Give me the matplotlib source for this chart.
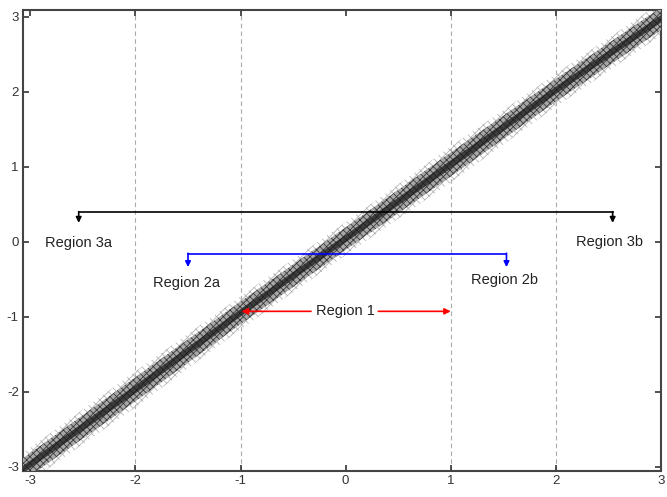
import numpy as np
from matplotlib import pyplot as plt

plt.rcParams['font.family'] = ['Liberation Sans', 'DejaVu Sans']
plt.rcParams['axes.unicode_minus'] = False
plt.rcParams['hatch.linewidth'] = 0.6

# centre of the point cloud read at the integer x positions
band_x = [-3.1, -2, -1, 0, 1, 2, 3.05]
band_y = [-3.07, -1.97, -0.95, 0.04, 1.03, 2.02, 3.02]
# half widths of the cloud (outer speckle, dense part, dark core)
outer_w = [0.22, 0.24, 0.22, 0.22, 0.24, 0.22, 0.22]
mid_w = [0.15, 0.16, 0.15, 0.15, 0.16, 0.15, 0.15]
core_w = [0.05, 0.055, 0.05, 0.05, 0.055, 0.05, 0.05]

grid_x = [-2, -1, 1, 2]
ticks = [-3, -2, -1, 0, 1, 2, 3]

# bracket annotations: (left end, right end, bar height, arrow tip, color)
reg3 = (-2.54, 2.54, 0.39, 0.25, 'black')
reg2 = (-1.50, 1.53, -0.165, -0.34, '#0000ff')
reg3_labels = [(-2.54, -0.02, 'Region 3a'), (2.51, 0.0, 'Region 3b')]
reg2_labels = [(-1.51, -0.55, 'Region 2a'), (1.51, -0.51, 'Region 2b')]
reg1_y = -0.93
reg1_arrows = [(-0.33, -0.99), (0.31, 1.0)]

fig = plt.figure(figsize=(6.67, 4.97), dpi=100)
ax = fig.add_axes([23 / 667, 1 - 471 / 497, 638 / 667, 461 / 497])

for gx in grid_x:
    ax.axvline(gx, color='#aaaaaa', linestyle=(0, (4, 3)), linewidth=0.8, zorder=1)

bx = np.array(band_x)
by = np.array(band_y)
ax.fill_between(bx, by - np.array(outer_w), by + np.array(outer_w), facecolor='none',
                edgecolor='#b5b5b5', hatch='xxxx', linewidth=0, zorder=2)
ax.fill_between(bx, by - np.array(mid_w), by + np.array(mid_w), facecolor='#a8a8a8',
                edgecolor='#3a3a3a', hatch='xxxxx', linewidth=0, zorder=3)
ax.fill_between(bx, by - np.array(core_w), by + np.array(core_w), facecolor='#1a1a1a',
                edgecolor='none', linewidth=0, alpha=0.75, zorder=4)

for x0, x1, yb, yt, col in [reg3, reg2]:
    ax.plot([x0, x1], [yb, yb], color=col, linewidth=1.2, zorder=5)
    for xe in (x0, x1):
        ax.annotate('', xy=(xe, yt), xytext=(xe, yb + 0.01),
                    arrowprops=dict(arrowstyle='-|>', color=col, lw=1.2,
                                    mutation_scale=8, shrinkA=0, shrinkB=0), zorder=5)

for x, y, s in reg3_labels + reg2_labels:
    ax.text(x, y, s, ha='center', va='center', fontsize=10.5, color='#222222', zorder=6)

ax.text(0, reg1_y, 'Region 1', ha='center', va='center', fontsize=10.5, color='#222222', zorder=6)
for xs, xe in reg1_arrows:
    ax.annotate('', xy=(xe, reg1_y), xytext=(xs, reg1_y),
                arrowprops=dict(arrowstyle='-|>', color='#ff0000', lw=1.2,
                                mutation_scale=9, shrinkA=0, shrinkB=0), zorder=6)

ax.set_xlim(-3.07, 3.0)
ax.set_ylim(-3.06, 3.09)
ax.set_xticks(ticks)
ax.set_yticks(ticks)
ax.tick_params(direction='in', top=True, right=True, length=4, width=1.2,
               labelsize=9.5, colors='#333333', pad=3)
for sp in ax.spines.values():
    sp.set_color('#444444')
    sp.set_linewidth(1.5)

plt.savefig('out.png', dpi=100)
